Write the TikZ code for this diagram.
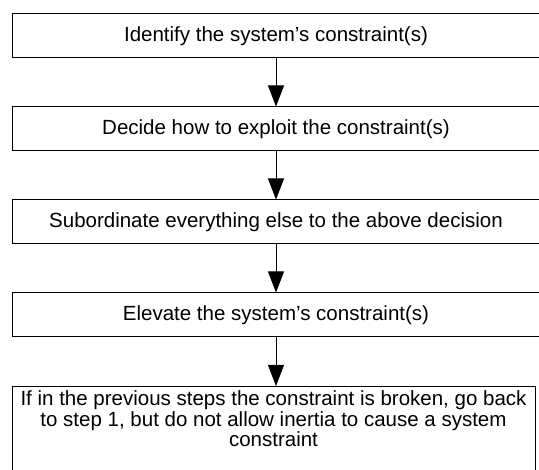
\documentclass[tikz,border=0pt]{standalone}
\usepackage{fontspec}
\setmainfont{Liberation Sans}
\usetikzlibrary{positioning,arrows.meta}

\tikzset{
  stepbox/.style={draw, line width=1pt, minimum width=528pt, minimum height=44pt,
    inner sep=4pt, align=center, font=\fontsize{20.5}{20.8}\selectfont},
  flow/.style={-{Triangle[width=16pt,length=21pt]}, line width=1pt}
}

\begin{document}
\begin{tikzpicture}[x=1pt,y=1pt]
    \clip (0,0) rectangle (539,-470);
    % Draw the five steps
    \node[stepbox] (identify) at (276,-36) {Identify the system’s constraint(s)};
    \node[stepbox, below=48pt of identify] (exploit) {Decide how to exploit the constraint(s)};
    \node[stepbox, below=48pt of exploit] (subordinate) {Subordinate everything else to the above decision};
    \node[stepbox, below=48pt of subordinate] (elevate) {Elevate the system’s constraint(s)};
    \node[stepbox, anchor=north, minimum width=523pt, text depth=30pt] (repeat) at (273.5,-386)
        {If in the previous steps the constraint is broken, go back\\
         to step 1, but do not allow inertia to cause a system\\
         constraint};
    % Arrows between the steps
    \draw[flow] (identify) -- (exploit);
    \draw[flow] (exploit) -- (subordinate);
    \draw[flow] (subordinate) -- (elevate);
    \draw[flow] (elevate.south) -- (elevate.south |- repeat.north);
\end{tikzpicture}
\end{document}
